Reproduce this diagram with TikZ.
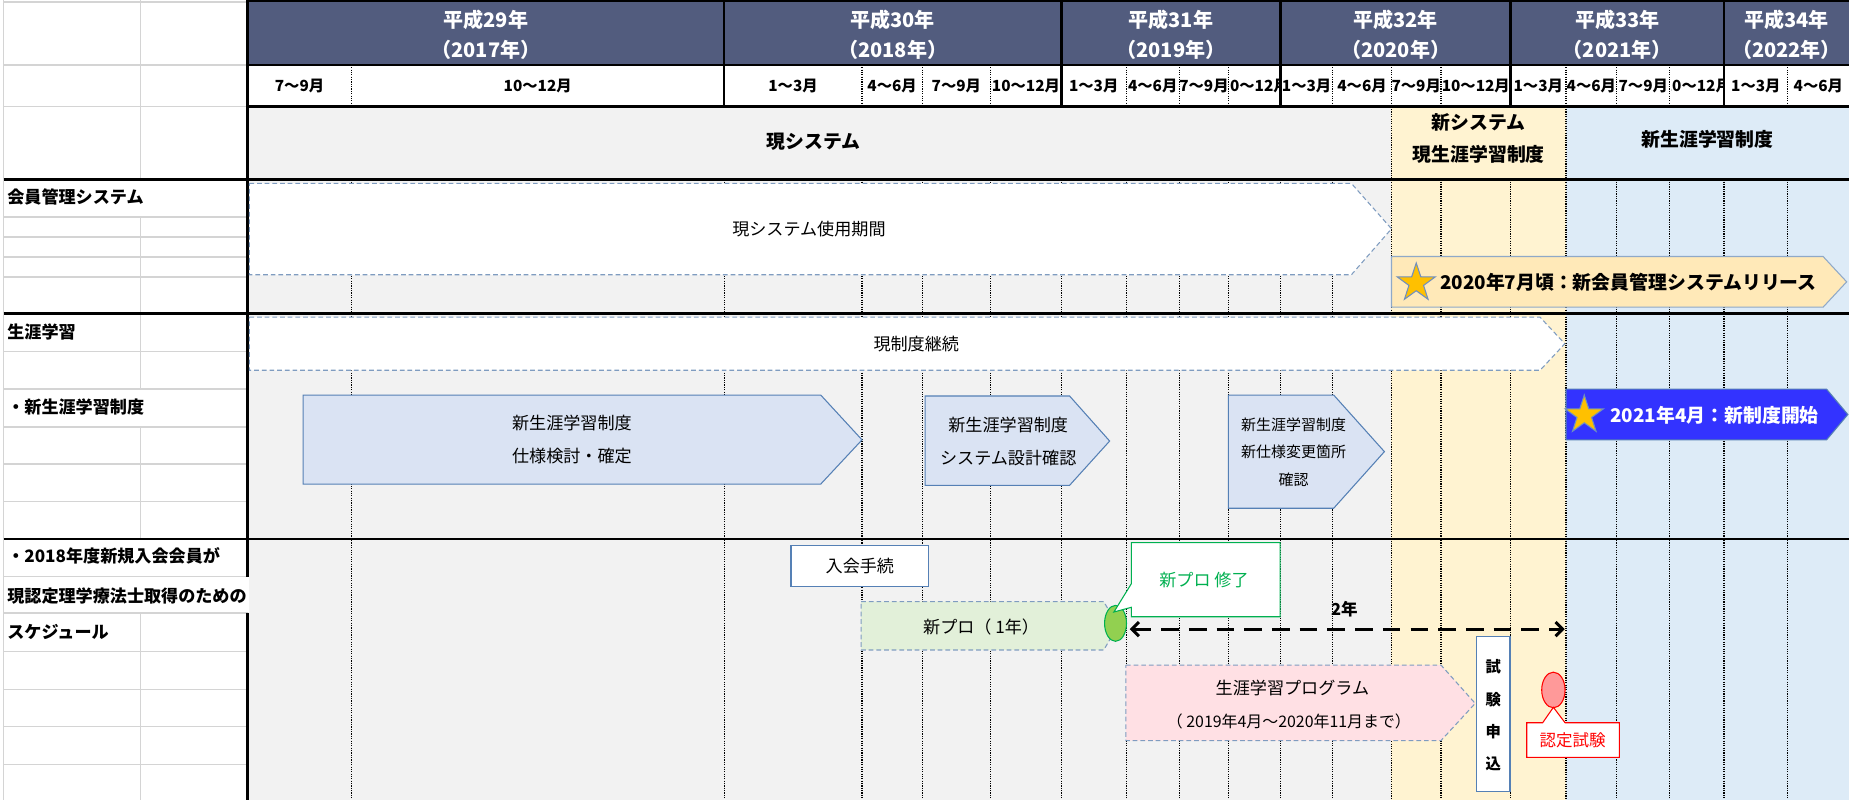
\documentclass[tikz,border=0pt]{standalone}
\usepackage{fontspec}
\setmainfont{Noto Sans CJK JP}
\usetikzlibrary{shapes.geometric,arrows.meta}
\definecolor{hdr}{HTML}{525C7E}
\definecolor{bggray}{HTML}{F2F2F2}
\definecolor{bgyel}{HTML}{FFF3D1}
\definecolor{bgblue}{HTML}{DDEBF7}
\definecolor{boxblue}{HTML}{DAE3F3}
\definecolor{boxedge}{HTML}{5580B5}
\definecolor{dashedge}{HTML}{7F9CC0}
\definecolor{gridgray}{HTML}{D4D4D4}
\definecolor{greenfill}{HTML}{E2F0D9}
\definecolor{pinkfill}{HTML}{FFE0E4}
\definecolor{orangefill}{HTML}{FFE9B8}
\definecolor{orangeedge}{HTML}{8FA9C8}
\definecolor{starfill}{HTML}{FFC000}
\definecolor{staredge}{HTML}{6F8FBF}
\definecolor{bigblue}{HTML}{3333FF}
\definecolor{okgreen}{HTML}{00B050}
\definecolor{limegreen}{HTML}{92D050}
\definecolor{redfill}{HTML}{FF9999}
\definecolor{redline}{HTML}{FF0000}
\tikzset{
 hdrtxt/.style={text=white, font=\bfseries\fontsize{17}{25}\selectfont, align=center, inner sep=0},
 monthtxt/.style={font=\bfseries\fontsize{13}{15}\selectfont, inner sep=0},
 bandtxt/.style={font=\bfseries\fontsize{16}{27}\selectfont, align=center, inner sep=0},
 labeltxt/.style={font=\bfseries\fontsize{14.5}{16}\selectfont, anchor=west, inner sep=0},
 boxtxt/.style={font=\fontsize{14.5}{28}\selectfont, align=center, inner sep=0},
 blackrule/.style={line width=2.2pt, black},
 dotrule/.style={line width=0.9pt, dash pattern=on 1pt off 1pt, black},
 gridrule/.style={line width=1.3pt, gridgray},
 dashbox/.style={draw=dashedge, dash pattern=on 4pt off 2.5pt, line width=0.9pt},
 solidbox/.style={draw=boxedge, line width=0.9pt},
 starsym/.style={star, star points=5, star point ratio=2.6, minimum size=34pt, inner sep=0, fill=starfill, draw=staredge, line width=0.9pt},
}
\begin{document}
\begin{tikzpicture}[x=1pt,y=-1pt]
\useasboundingbox (0,0) rectangle (1568,678);
\fill[white] (0,0) rectangle (1568,678);
% header and backgrounds
\fill[hdr] (210,0) rectangle (1568,55);
\fill[white] (210,55) rectangle (1568,90.5);
\fill[bggray] (210,90.5) rectangle (1180,678);
\fill[bgyel] (1180,90.5) rectangle (1328,678);
\fill[bgblue] (1328,90.5) rectangle (1568,678);
% label grid
\foreach \y in {1.5,55,90.5,184,201,218,235,298,330,362,393.5,425.4,489,520,552.6,584.6,616.2,648.2}
  \draw[gridrule] (3,\y) -- (210,\y);
\draw[gridrule] (3,0) -- (3,678);
\foreach \ya/\yb in {0/152,184/266,266/330,362/457,520/678}
  \draw[gridrule] (119,\ya) -- (119,\yb);
% dotted verticals
\foreach \x in {298,614,731,782,840,900,955,1000,1042,1086,1130,1222,1281,1371,1416,1462,1516}
  \draw[dotrule] (\x,152) -- (\x,678);
\foreach \x in {1180,1328}
  \draw[dotrule] (\x,90.5) -- (\x,678);
\foreach \x in {298,731,782,840,955,1000,1042,1130,1180,1222,1328,1371,1416,1516}
  \draw[dotrule] (\x,55) -- (\x,90.5);
% black rules
\draw[blackrule] (210,1) -- (1568,1);
\draw[blackrule] (210,55) -- (1568,55);
\draw[blackrule] (210,90.5) -- (1568,90.5);
\draw[blackrule] (3,152) -- (1568,152);
\draw[blackrule] (3,266) -- (1568,266);
\draw[blackrule] (3,457) -- (1568,457);
\foreach \x in {614,900,1086,1281,1462}
  \draw[blackrule] (\x,0) -- (\x,90.5);
\draw[blackrule] (210,0) -- (210,489);
\draw[blackrule] (210,520) -- (210,678);
% year headers
\node[hdrtxt] (y2017) at (412,29.5) {平成29年\\（2017年）};
\node[hdrtxt] (y2018) at (757,29.5) {平成30年\\（2018年）};
\node[hdrtxt] (y2019) at (993,29.5) {平成31年\\（2019年）};
\node[hdrtxt] (y2020) at (1183.5,29.5) {平成32年\\（2020年）};
\node[hdrtxt] (y2021) at (1371.5,29.5) {平成33年\\（2021年）};
\node[hdrtxt] (y2022) at (1515,29.5) {平成34年\\（2022年）};
% month labels
\foreach \a/\b/\t in {210/298/7～9月,298/614/10～12月,614/731/1～3月,731/782/4～6月,782/840/7～9月,840/900/10～12月,900/955/1～3月,955/1000/4～6月,1000/1042/7～9月,1042/1086/10～12月,1086/1130/1～3月,1130/1180/4～6月,1180/1222/7～9月,1222/1281/10～12月,1281/1328/1～3月,1328/1371/4～6月,1371/1416/7～9月,1416/1462/10～12月,1462/1516/1～3月,1516/1568/4～6月}{
  \begin{scope}
    \clip (\a+1.1,56) rectangle (\b-1.1,89.5);
    \node[monthtxt] (m\a) at ({(\a+\b)/2},73) {\t};
  \end{scope}
}
% band header
\node[bandtxt] (cur) at (690,120) {現システム};
\node[bandtxt] (mid) at (1254,117.5) {新システム\\現生涯学習制度};
\node[bandtxt] (newsys) at (1448,118) {新生涯学習制度};
% labels
\fill[white] (3.6,489.6) rectangle (211.2,519.4);
\node[labeltxt] (l1) at (6,167) {会員管理システム};
\node[labeltxt] (l2) at (6,281.3) {生涯学習};
\node[labeltxt] (l3) at (6,345) {・新生涯学習制度};
\node[labeltxt] (l4) at (6,471) {・2018年度新規入会会員が};
\node[labeltxt] (l5) at (6,505) {現認定理学療法士取得のための};
\node[labeltxt] (l6) at (6,536) {スケジュール};
% section 1
\path[fill=white, dashbox] (211.5,155.5) -- (1146,155.5) -- (1180,194) -- (1146,233) -- (211.5,233) -- cycle;
\node[boxtxt] (use) at (686,194) {現システム使用期間};
\path[fill=orangefill, draw=orangeedge, line width=0.9pt] (1180,217.5) -- (1546,217.5) -- (1566,239) -- (1546,260.5) -- (1180,260.5) -- cycle;
\node[starsym] (star1) at (1201,240) {};
\node[font=\bfseries\fontsize{16}{18}\selectfont, anchor=west, inner sep=0] (rel) at (1221,239.5) {2020年7月頃：新会員管理システムリリース};
% section 2
\path[fill=white, dashbox] (211.5,269) -- (1306,269) -- (1327,291.5) -- (1306,314) -- (211.5,314) -- cycle;
\node[boxtxt] (cont) at (777,292) {現制度継続};
\path[fill=boxblue, solidbox] (257,335) -- (696,335) -- (731,373) -- (696,410.5) -- (257,410.5) -- cycle;
\node[boxtxt] (b1) at (485,373) {新生涯学習制度\\仕様検討・確定};
\path[fill=boxblue, solidbox] (784.5,335.8) -- (907,335.8) -- (941,374) -- (907,411.6) -- (784.5,411.6) -- cycle;
\node[boxtxt] (b2) at (855,374) {新生涯学習制度\\システム設計確認};
\path[fill=boxblue, solidbox] (1041.7,335) -- (1131,335) -- (1174,383) -- (1131,431) -- (1041.7,431) -- cycle;
\node[boxtxt, font=\fontsize{12.7}{23}\selectfont] (b3) at (1097,383.5) {新生涯学習制度\\新仕様変更箇所\\確認};
\path[fill=bigblue, draw=boxedge, line width=0.9pt] (1328,330) -- (1549,330) -- (1567,351.5) -- (1549,373) -- (1328,373) -- cycle;
\node[starsym] (star2) at (1343.5,352) {};
\node[text=white, font=\bfseries\fontsize{16}{18}\selectfont, inner sep=0] (start) at (1454,352) {2021年4月：新制度開始};
% section 3
\node[solidbox, fill=white, minimum width=116.8pt, minimum height=34.5pt, inner sep=0, font=\fontsize{14.5}{16}\selectfont] (nyukai) at (729.2,480.2) {入会手続};
\path[fill=greenfill, dashbox] (730.3,510.2) -- (936,510.2) -- (948,530.7) -- (936,551.2) -- (730.3,551.2) -- cycle;
\node[boxtxt] (newpro) at (832,531.5) {新プロ（ 1年）};
\node[ellipse, draw=okgreen, fill=limegreen, line width=0.9pt, minimum width=18.6pt, minimum height=30.5pt, inner sep=0] (npdone) at (946,528.6) {};
\path[fill=white, draw=okgreen, line width=0.9pt] (959.4,460.2) -- (1085.5,460.2) -- (1085.5,523) -- (959.4,523) -- (959.4,515) -- (944.6,519) -- (959.4,495) -- cycle;
\node[boxtxt, text=okgreen] (donetxt) at (1021,492) {新プロ 修了};
\coordinate (arrL) at (958,533.5);
\coordinate (arrR) at (1327,533.5);
\draw[line width=2.6pt, dash pattern=on 15pt off 8.5pt, {Straight Barb[length=6pt,width=12pt]}-{Straight Barb[length=6pt,width=12pt]}] (arrL) -- (arrR);
\node[font=\bfseries\fontsize{14}{16}\selectfont, inner sep=0] (twoyr) at (1140,517) {2年};
\path[fill=pinkfill, dashbox] (954.8,564) -- (1222,564) -- (1251,596.5) -- (1222,628) -- (954.8,628) -- cycle;
\node[boxtxt] (prog1) at (1096,583.7) {生涯学習プログラム};
\node[boxtxt, font=\fontsize{13.5}{16}\selectfont] (prog2) at (1093,612) {（ 2019年4月～2020年11月まで）};
\draw[solidbox, fill=white] (1252.3,540) rectangle (1280.5,671.4);
\node[font=\bfseries\fontsize{13}{27.5}\selectfont, align=center, inner sep=0] (apply) at (1266.4,606.7) {試\\験\\申\\込};
\node[ellipse, draw=redline, fill=redfill, line width=0.9pt, minimum width=19.8pt, minimum height=30.2pt, inner sep=0] (exam) at (1317.3,585.1) {};
\path[fill=white, draw=redline, line width=0.9pt] (1294.7,612.9) -- (1308.2,612.9) -- (1317.3,599.8) -- (1327.2,612.9) -- (1373.2,612.9) -- (1373.2,642.2) -- (1294.7,642.2) -- cycle;
\node[boxtxt, text=redline, font=\fontsize{14}{16}\selectfont] (examtxt) at (1333.7,628) {認定試験};
\end{tikzpicture}
\end{document}
